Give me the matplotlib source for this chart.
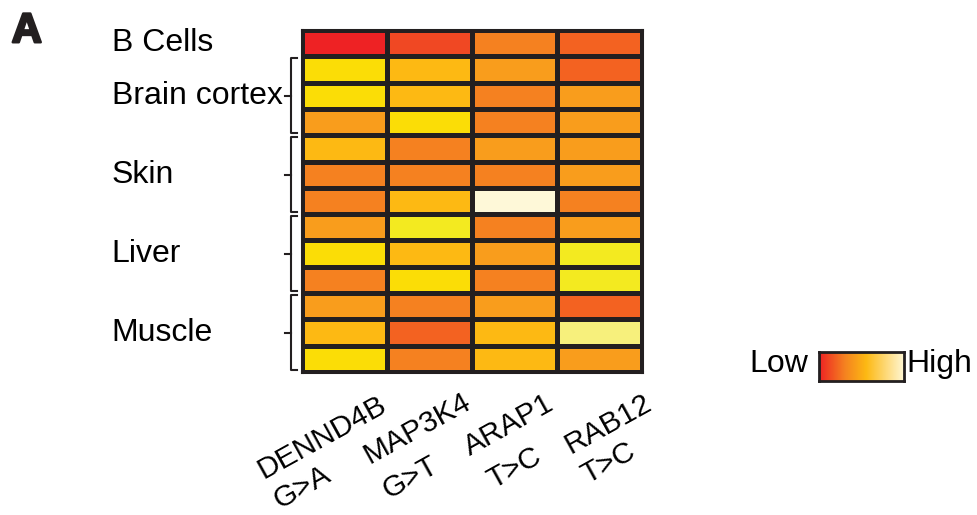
import numpy as np
import matplotlib.pyplot as plt
import matplotlib.patheffects as pe
from matplotlib.colors import LinearSegmentedColormap

plt.rcParams['font.family'] = ['Liberation Sans', 'DejaVu Sans']

genes = ['DENND4B', 'MAP3K4', 'ARAP1', 'RAB12']
mutations = ['G>A', 'G>T', 'T>C', 'T>C']
groups = ['B Cells', 'Brain cortex', 'Skin', 'Liver', 'Muscle']
group_rows = [(0, 1), (1, 4), (4, 7), (7, 10), (10, 13)]

# relative level per cell (0 = low/red, 1 = high/cream), rows top to bottom
levels = np.array([
    [0.00, 0.10, 0.30, 0.18],
    [0.68, 0.55, 0.42, 0.18],
    [0.68, 0.55, 0.30, 0.42],
    [0.42, 0.68, 0.30, 0.42],
    [0.55, 0.30, 0.42, 0.42],
    [0.30, 0.30, 0.30, 0.42],
    [0.30, 0.55, 1.00, 0.30],
    [0.42, 0.76, 0.30, 0.42],
    [0.68, 0.55, 0.42, 0.76],
    [0.30, 0.68, 0.30, 0.76],
    [0.42, 0.30, 0.42, 0.18],
    [0.55, 0.18, 0.55, 0.86],
    [0.68, 0.30, 0.55, 0.42],
])

# where the rotated labels sit (data units of the heatmap)
gene_anchor = [(1.01, 14.44), (2.01, 14.33), (2.98, 14.37), (4.13, 14.37)]
mut_anchor = [(-0.265, 18.2), (1.02, 17.83), (2.25, 17.45), (3.36, 17.26)]

cmap = LinearSegmentedColormap.from_list('lowhigh', [
    (0.00, '#ee2224'), (0.10, '#f04923'), (0.18, '#f36221'),
    (0.30, '#f58220'), (0.42, '#f99d1c'), (0.55, '#fdb913'),
    (0.68, '#fbdd05'), (0.76, '#f3ea1f'), (0.86, '#f7f07a'),
    (1.00, '#fef8d8')])
legend_cmap = LinearSegmentedColormap.from_list('legend', [
    (0.0, '#ee2224'), (0.3, '#f58220'), (0.55, '#fdb913'), (1.0, '#fff8d8')])

edge = '#231f20'
fig = plt.figure(figsize=(9.78, 5.15), dpi=100)
ax = fig.add_axes([0.309, 0.2777, 0.3477, 0.664])
ax.pcolormesh(levels, cmap=cmap, vmin=0, vmax=1, edgecolors=edge, linewidth=2.2)
ax.set_xlim(0, 4)
ax.set_ylim(13, 0)
ax.set_xticks([])
ax.set_yticks([])
for s in ax.spines.values():
    s.set_linewidth(2.2)
    s.set_color(edge)

# group labels and brackets
for name, (r0, r1) in zip(groups, group_rows):
    mid = (r0 + r1) / 2
    ax.text(-2.24, mid, name, fontsize=23, ha='left', va='center')
    if r1 - r0 > 1:
        xs = [-0.06, -0.13, -0.13, -0.06]
        ys = [r0 + 0.07, r0 + 0.07, r1 - 0.07, r1 - 0.07]
        ax.plot(xs, ys, color=edge, lw=1.5, clip_on=False)
        ax.plot([-0.13, -0.2], [mid, mid], color=edge, lw=1.5, clip_on=False)

# rotated gene / mutation labels
for g, m, ga, ma in zip(genes, mutations, gene_anchor, mut_anchor):
    ax.text(ga[0], ga[1], g, fontsize=21.5, rotation=29, ha='right',
            va='baseline', rotation_mode='anchor')
    ax.text(ma[0], ma[1], m, fontsize=21.5, rotation=29, ha='left',
            va='baseline', rotation_mode='anchor')

fig.text(0.012, 0.918, 'A', fontsize=30, fontweight='bold', color='#231f20',
         ha='left', va='baseline',
         path_effects=[pe.withStroke(linewidth=1.8, foreground='#231f20')])

# legend bar
cax = fig.add_axes([0.8374, 0.260, 0.0870, 0.056])
cax.imshow(np.linspace(0, 1, 256)[None, :], aspect='auto', cmap=legend_cmap)
cax.set_xticks([])
cax.set_yticks([])
for s in cax.spines.values():
    s.set_linewidth(2)
    s.set_color(edge)
fig.text(0.826, 0.293, 'Low', fontsize=23, ha='right', va='center')
fig.text(0.927, 0.293, 'High', fontsize=23, ha='left', va='center')

fig.savefig('out.png', dpi=100)
